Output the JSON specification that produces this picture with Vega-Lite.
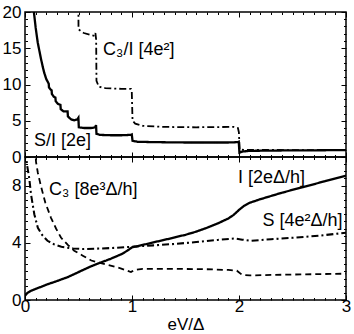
{
  "$schema": "https://vega.github.io/schema/vega-lite/v6.json",
  "padding": {"left": 1, "top": 1, "right": 5, "bottom": 0},
  "spacing": 0,
  "bounds": "flush",
  "resolve": {"scale": {"strokeDash": "independent", "strokeWidth": "independent"}},
  "config": {
    "view": {"stroke": "black", "strokeWidth": 1.5},
    "axis": {"labelFont": "Liberation Sans", "titleFont": "Liberation Sans", "labelColor": "black", "tickColor": "black", "titleColor": "black"},
    "text": {"font": "Liberation Sans"}
  },
  "datasets": {
    "top": [
      {"s": "S/I", "x": 0.083, "y": 20}, {"s": "S/I", "x": 0.1, "y": 17.8}, {"s": "S/I", "x": 0.119, "y": 15.8},
      {"s": "S/I", "x": 0.135, "y": 14.6}, {"s": "S/I", "x": 0.15, "y": 13.5}, {"s": "S/I", "x": 0.165, "y": 12.5},
      {"s": "S/I", "x": 0.18, "y": 11.6}, {"s": "S/I", "x": 0.2, "y": 10.7}, {"s": "S/I", "x": 0.215, "y": 10.3},
      {"s": "S/I", "x": 0.222, "y": 10.1}, {"s": "S/I", "x": 0.224, "y": 9.6}, {"s": "S/I", "x": 0.24, "y": 9.3},
      {"s": "S/I", "x": 0.249, "y": 9.2}, {"s": "S/I", "x": 0.251, "y": 8.7}, {"s": "S/I", "x": 0.27, "y": 8.3},
      {"s": "S/I", "x": 0.284, "y": 8.2}, {"s": "S/I", "x": 0.287, "y": 7.7}, {"s": "S/I", "x": 0.31, "y": 7.3},
      {"s": "S/I", "x": 0.331, "y": 7.2}, {"s": "S/I", "x": 0.334, "y": 6.6}, {"s": "S/I", "x": 0.36, "y": 6.3},
      {"s": "S/I", "x": 0.398, "y": 6.3}, {"s": "S/I", "x": 0.401, "y": 5.6}, {"s": "S/I", "x": 0.43, "y": 5.2},
      {"s": "S/I", "x": 0.46, "y": 5.05}, {"s": "S/I", "x": 0.49, "y": 5.2}, {"s": "S/I", "x": 0.499, "y": 5.4},
      {"s": "S/I", "x": 0.503, "y": 4.1}, {"s": "S/I", "x": 0.55, "y": 4.0}, {"s": "S/I", "x": 0.62, "y": 4.0},
      {"s": "S/I", "x": 0.655, "y": 4.1}, {"s": "S/I", "x": 0.664, "y": 4.4}, {"s": "S/I", "x": 0.668, "y": 3.2},
      {"s": "S/I", "x": 0.7, "y": 3.05}, {"s": "S/I", "x": 0.8, "y": 3.0}, {"s": "S/I", "x": 0.9, "y": 3.0},
      {"s": "S/I", "x": 0.99, "y": 3.05}, {"s": "S/I", "x": 0.998, "y": 3.1}, {"s": "S/I", "x": 1.005, "y": 2.25},
      {"s": "S/I", "x": 1.05, "y": 2.1}, {"s": "S/I", "x": 1.2, "y": 2.05}, {"s": "S/I", "x": 1.5, "y": 2.0},
      {"s": "S/I", "x": 1.9, "y": 2.0}, {"s": "S/I", "x": 1.99, "y": 2.05}, {"s": "S/I", "x": 1.998, "y": 2.1},
      {"s": "S/I", "x": 2.004, "y": 0.6}, {"s": "S/I", "x": 2.03, "y": 0.75}, {"s": "S/I", "x": 2.1, "y": 0.85},
      {"s": "S/I", "x": 2.4, "y": 0.9}, {"s": "S/I", "x": 3.0, "y": 0.95},
      {"s": "C3/I", "x": 0.499, "y": 21}, {"s": "C3/I", "x": 0.5, "y": 17.6}, {"s": "C3/I", "x": 0.55, "y": 17.1},
      {"s": "C3/I", "x": 0.62, "y": 16.8}, {"s": "C3/I", "x": 0.65, "y": 16.7}, {"s": "C3/I", "x": 0.658, "y": 17.1},
      {"s": "C3/I", "x": 0.665, "y": 16.2}, {"s": "C3/I", "x": 0.668, "y": 10.5}, {"s": "C3/I", "x": 0.69, "y": 9.7},
      {"s": "C3/I", "x": 0.75, "y": 9.5}, {"s": "C3/I", "x": 0.9, "y": 9.4}, {"s": "C3/I", "x": 0.99, "y": 9.4},
      {"s": "C3/I", "x": 0.998, "y": 9.0}, {"s": "C3/I", "x": 1.005, "y": 5.0}, {"s": "C3/I", "x": 1.03, "y": 4.6},
      {"s": "C3/I", "x": 1.1, "y": 4.3}, {"s": "C3/I", "x": 1.3, "y": 4.15}, {"s": "C3/I", "x": 1.6, "y": 4.1},
      {"s": "C3/I", "x": 1.95, "y": 4.15}, {"s": "C3/I", "x": 1.99, "y": 4.0}, {"s": "C3/I", "x": 1.999, "y": 3.4},
      {"s": "C3/I", "x": 2.006, "y": 1.0}, {"s": "C3/I", "x": 2.5, "y": 0.95}, {"s": "C3/I", "x": 3.0, "y": 0.95}
    ],
    "bottom": [
      {"s": "I", "x": 0.0, "y": 0.3}, {"s": "I", "x": 0.02, "y": 0.48}, {"s": "I", "x": 0.05, "y": 0.62},
      {"s": "I", "x": 0.1, "y": 0.78}, {"s": "I", "x": 0.15, "y": 0.92}, {"s": "I", "x": 0.2, "y": 1.07},
      {"s": "I", "x": 0.3, "y": 1.33}, {"s": "I", "x": 0.4, "y": 1.6}, {"s": "I", "x": 0.5, "y": 1.95},
      {"s": "I", "x": 0.6, "y": 2.3}, {"s": "I", "x": 0.7, "y": 2.6}, {"s": "I", "x": 0.8, "y": 2.88},
      {"s": "I", "x": 0.9, "y": 3.2}, {"s": "I", "x": 0.95, "y": 3.42}, {"s": "I", "x": 1.0, "y": 3.68},
      {"s": "I", "x": 1.1, "y": 3.85}, {"s": "I", "x": 1.2, "y": 4.03}, {"s": "I", "x": 1.3, "y": 4.2},
      {"s": "I", "x": 1.4, "y": 4.38}, {"s": "I", "x": 1.5, "y": 4.56}, {"s": "I", "x": 1.6, "y": 4.78},
      {"s": "I", "x": 1.7, "y": 5.05}, {"s": "I", "x": 1.8, "y": 5.35}, {"s": "I", "x": 1.9, "y": 5.7},
      {"s": "I", "x": 1.95, "y": 5.95}, {"s": "I", "x": 2.0, "y": 6.3}, {"s": "I", "x": 2.05, "y": 6.6},
      {"s": "I", "x": 2.1, "y": 6.8}, {"s": "I", "x": 2.2, "y": 7.05}, {"s": "I", "x": 2.4, "y": 7.5},
      {"s": "I", "x": 2.6, "y": 7.9}, {"s": "I", "x": 2.8, "y": 8.3}, {"s": "I", "x": 3.0, "y": 8.7},
      {"s": "S", "x": 0.005, "y": 10.4}, {"s": "S", "x": 0.02, "y": 9.4}, {"s": "S", "x": 0.04, "y": 8.5},
      {"s": "S", "x": 0.056, "y": 7.4}, {"s": "S", "x": 0.087, "y": 6.0}, {"s": "S", "x": 0.12, "y": 5.05},
      {"s": "S", "x": 0.16, "y": 4.55}, {"s": "S", "x": 0.21, "y": 4.14}, {"s": "S", "x": 0.27, "y": 3.9},
      {"s": "S", "x": 0.34, "y": 3.72}, {"s": "S", "x": 0.45, "y": 3.6}, {"s": "S", "x": 0.55, "y": 3.56},
      {"s": "S", "x": 0.7, "y": 3.6}, {"s": "S", "x": 0.85, "y": 3.65}, {"s": "S", "x": 0.99, "y": 3.72},
      {"s": "S", "x": 1.2, "y": 3.82}, {"s": "S", "x": 1.36, "y": 3.9}, {"s": "S", "x": 1.6, "y": 4.05},
      {"s": "S", "x": 1.8, "y": 4.2}, {"s": "S", "x": 1.96, "y": 4.3}, {"s": "S", "x": 2.03, "y": 4.22},
      {"s": "S", "x": 2.11, "y": 4.14}, {"s": "S", "x": 2.3, "y": 4.25}, {"s": "S", "x": 2.5, "y": 4.35},
      {"s": "S", "x": 2.75, "y": 4.5}, {"s": "S", "x": 3.0, "y": 4.7},
      {"s": "C3", "x": 0.095, "y": 10.6}, {"s": "C3", "x": 0.103, "y": 9.66}, {"s": "C3", "x": 0.12, "y": 8.9},
      {"s": "C3", "x": 0.15, "y": 7.93}, {"s": "C3", "x": 0.19, "y": 6.8}, {"s": "C3", "x": 0.243, "y": 5.75},
      {"s": "C3", "x": 0.29, "y": 5.0}, {"s": "C3", "x": 0.336, "y": 4.37}, {"s": "C3", "x": 0.4, "y": 3.85},
      {"s": "C3", "x": 0.46, "y": 3.45}, {"s": "C3", "x": 0.54, "y": 3.1}, {"s": "C3", "x": 0.62, "y": 2.76},
      {"s": "C3", "x": 0.7, "y": 2.6}, {"s": "C3", "x": 0.8, "y": 2.41}, {"s": "C3", "x": 0.9, "y": 2.2},
      {"s": "C3", "x": 0.99, "y": 1.95}, {"s": "C3", "x": 1.02, "y": 2.1}, {"s": "C3", "x": 1.1, "y": 2.18},
      {"s": "C3", "x": 1.4, "y": 2.18}, {"s": "C3", "x": 1.7, "y": 2.15}, {"s": "C3", "x": 1.9, "y": 2.1},
      {"s": "C3", "x": 1.98, "y": 2.05}, {"s": "C3", "x": 2.03, "y": 1.75}, {"s": "C3", "x": 2.1, "y": 1.72},
      {"s": "C3", "x": 2.5, "y": 1.78}, {"s": "C3", "x": 3.0, "y": 1.84}
    ],
    "topLabels": [
      {"x": 0.73, "y": 14.7, "t": "C₃/I [4e²]"},
      {"x": 0.084, "y": 2.2, "t": "S/I [2e]"}
    ],
    "bottomLabels": [
      {"x": 0.225, "y": 7.7, "t": "C₃ [8e³Δ/h]"},
      {"x": 1.99, "y": 8.5, "t": "I [2eΔ/h]"},
      {"x": 2.22, "y": 5.5, "t": "S [4e²Δ/h]"}
    ]
  },
  "vconcat": [
    {
      "width": 321,
      "height": 145,
      "resolve": {"axis": {"x": "independent", "y": "independent"}},
      "layer": [
        {
          "data": {"name": "top"},
          "mark": {"type": "line", "clip": true, "color": "black"},
          "encoding": {
            "x": {"field": "x", "type": "quantitative", "scale": {"domain": [0, 3], "nice": false}, "axis": null},
            "y": {"field": "y", "type": "quantitative", "scale": {"domain": [0, 20], "nice": false},
                  "axis": {"orient": "left", "values": [0, 5, 10, 15, 20], "ticks": false, "domain": false, "grid": false, "title": null, "labelPadding": 4, "labelFontSize": 17}},
            "detail": {"field": "s"},
            "strokeDash": {"field": "s", "type": "nominal", "scale": {"domain": ["S/I", "C3/I"], "range": [[1, 0], [7, 3, 2, 3]]}, "legend": null},
            "strokeWidth": {"field": "s", "type": "nominal", "scale": {"domain": ["S/I", "C3/I"], "range": [2.3, 1.8]}, "legend": null}
          }
        },
        {
          "data": {"name": "top"},
          "mark": {"type": "point", "opacity": 0},
          "encoding": {
            "x": {"field": "x", "type": "quantitative",
                  "axis": {"orient": "bottom", "minExtent": 0, "maxExtent": 0, "values": [0,0.1,0.2,0.3,0.4,0.5,0.6,0.7,0.8,0.9,1,1.1,1.2,1.3,1.4,1.5,1.6,1.7,1.8,1.9,2,2.1,2.2,2.3,2.4,2.5,2.6,2.7,2.8,2.9,3], "labels": false, "domain": false, "grid": false, "title": null, "tickSize": {"condition": {"test": "datum.value % 1 === 0", "value": -5}, "value": -2.5}}},
            "y": {"field": "y", "type": "quantitative",
                  "axis": {"orient": "left", "minExtent": 0, "maxExtent": 0, "values": [0,1,2,3,4,5,6,7,8,9,10,11,12,13,14,15,16,17,18,19,20], "labels": false, "domain": false, "grid": false, "title": null, "tickSize": {"condition": {"test": "datum.value % 5 === 0", "value": -5}, "value": -2.5}}}
          }
        },
        {
          "data": {"name": "top"},
          "mark": {"type": "point", "opacity": 0},
          "encoding": {
            "x": {"field": "x", "type": "quantitative",
                  "axis": {"orient": "top", "minExtent": 0, "maxExtent": 0, "values": [0,0.1,0.2,0.3,0.4,0.5,0.6,0.7,0.8,0.9,1,1.1,1.2,1.3,1.4,1.5,1.6,1.7,1.8,1.9,2,2.1,2.2,2.3,2.4,2.5,2.6,2.7,2.8,2.9,3], "labels": false, "domain": false, "grid": false, "title": null, "tickSize": {"condition": {"test": "datum.value % 1 === 0", "value": -5}, "value": -2.5}}},
            "y": {"field": "y", "type": "quantitative",
                  "axis": {"orient": "right", "minExtent": 0, "maxExtent": 0, "values": [0,1,2,3,4,5,6,7,8,9,10,11,12,13,14,15,16,17,18,19,20], "labels": false, "domain": false, "grid": false, "title": null, "tickSize": {"condition": {"test": "datum.value % 5 === 0", "value": -5}, "value": -2.5}}}
          }
        },
        {
          "data": {"name": "topLabels"},
          "mark": {"type": "text", "align": "left", "baseline": "middle", "fontSize": 18, "color": "black"},
          "encoding": {
            "x": {"field": "x", "type": "quantitative", "axis": null},
            "y": {"field": "y", "type": "quantitative", "axis": null},
            "text": {"field": "t"}
          }
        }
      ]
    },
    {
      "width": 321,
      "height": 143,
      "resolve": {"axis": {"x": "independent", "y": "independent"}},
      "layer": [
        {
          "data": {"name": "bottom"},
          "mark": {"type": "line", "clip": true, "color": "black"},
          "encoding": {
            "x": {"field": "x", "type": "quantitative", "scale": {"domain": [0, 3], "nice": false},
                  "axis": {"orient": "bottom", "values": [0, 1, 2, 3], "format": "d", "ticks": false, "domain": false, "grid": false, "labelFlush": false, "labelPadding": -2, "labelFontSize": 17, "title": "eV/Δ", "titleFontSize": 17, "titleFontWeight": "normal", "titlePadding": 2}},
            "y": {"field": "y", "type": "quantitative", "scale": {"domain": [0, 10], "nice": false},
                  "axis": {"orient": "left", "values": [0, 4, 8], "ticks": false, "domain": false, "grid": false, "title": null, "labelPadding": 4, "labelFontSize": 17}},
            "detail": {"field": "s"},
            "strokeDash": {"field": "s", "type": "nominal", "scale": {"domain": ["I", "S", "C3"], "range": [[1, 0], [7, 3, 2, 3], [6, 4]]}, "legend": null},
            "strokeWidth": {"field": "s", "type": "nominal", "scale": {"domain": ["I", "S", "C3"], "range": [2.3, 1.8, 2.0]}, "legend": null}
          }
        },
        {
          "data": {"name": "bottom"},
          "mark": {"type": "point", "opacity": 0},
          "encoding": {
            "x": {"field": "x", "type": "quantitative",
                  "axis": {"orient": "bottom", "minExtent": 0, "maxExtent": 0, "values": [0,0.1,0.2,0.3,0.4,0.5,0.6,0.7,0.8,0.9,1,1.1,1.2,1.3,1.4,1.5,1.6,1.7,1.8,1.9,2,2.1,2.2,2.3,2.4,2.5,2.6,2.7,2.8,2.9,3], "labels": false, "domain": false, "grid": false, "title": null, "tickSize": {"condition": {"test": "datum.value % 1 === 0", "value": -5}, "value": -2.5}}},
            "y": {"field": "y", "type": "quantitative",
                  "axis": {"orient": "left", "minExtent": 0, "maxExtent": 0, "values": [0,0.5,1,1.5,2,2.5,3,3.5,4,4.5,5,5.5,6,6.5,7,7.5,8,8.5,9,9.5,10], "labels": false, "domain": false, "grid": false, "title": null, "tickSize": {"condition": {"test": "datum.value % 4 === 0", "value": -5}, "value": -2.5}}}
          }
        },
        {
          "data": {"name": "bottom"},
          "mark": {"type": "point", "opacity": 0},
          "encoding": {
            "x": {"field": "x", "type": "quantitative",
                  "axis": {"orient": "top", "minExtent": 0, "maxExtent": 0, "values": [0,0.1,0.2,0.3,0.4,0.5,0.6,0.7,0.8,0.9,1,1.1,1.2,1.3,1.4,1.5,1.6,1.7,1.8,1.9,2,2.1,2.2,2.3,2.4,2.5,2.6,2.7,2.8,2.9,3], "labels": false, "domain": false, "grid": false, "title": null, "tickSize": {"condition": {"test": "datum.value % 1 === 0", "value": -5}, "value": -2.5}}},
            "y": {"field": "y", "type": "quantitative",
                  "axis": {"orient": "right", "minExtent": 0, "maxExtent": 0, "values": [0,0.5,1,1.5,2,2.5,3,3.5,4,4.5,5,5.5,6,6.5,7,7.5,8,8.5,9,9.5,10], "labels": false, "domain": false, "grid": false, "title": null, "tickSize": {"condition": {"test": "datum.value % 4 === 0", "value": -5}, "value": -2.5}}}
          }
        },
        {
          "data": {"name": "bottomLabels"},
          "mark": {"type": "text", "align": "left", "baseline": "middle", "fontSize": 18, "color": "black"},
          "encoding": {
            "x": {"field": "x", "type": "quantitative", "axis": null},
            "y": {"field": "y", "type": "quantitative", "axis": null},
            "text": {"field": "t"}
          }
        }
      ]
    }
  ]
}
